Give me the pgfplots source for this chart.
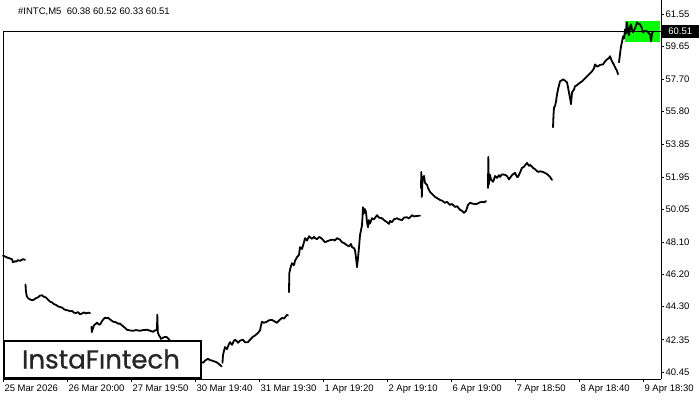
\documentclass[border=0pt]{standalone}
\usepackage{pgfplots}
\pgfplotsset{compat=1.18}
\usepackage{fontspec}
\setmainfont{Liberation Sans}
\newfontfamily\logofont{Poppins}[FakeBold=0.8]
\definecolor{mtgreen}{RGB}{0,255,0}
\pgfplotsset{series/.style={black, line width=1.8pt, line join=round, line cap=round, mark=none}}
\begin{document}
\begin{tikzpicture}[x=1pt,y=1pt]
\useasboundingbox (0,0) rectangle (700,400);
\begin{axis}[
  at={(3pt,21pt)}, anchor=south west,
  scale only axis, width=658pt, height=379pt,
  xmin=3, xmax=661, ymin=40.037, ymax=62.375,
  clip=false,
  axis x line=bottom, axis y line=right,
  axis line style={-, line width=0.8pt, black},
  tick align=outside, major tick length=3pt,
  tick style={black, line width=0.6pt},
  xtick={3,67,131,195,259,323,387,451,515,579,643},
  xticklabels={25 Mar 2026,26 Mar 20:00,27 Mar 19:50,30 Mar 19:40,31 Mar 19:30,1 Apr 19:20,2 Apr 19:10,6 Apr 19:00,7 Apr 18:50,8 Apr 18:40,9 Apr 18:30},
  x tick label style={font=\fontsize{9.5}{10}\selectfont, anchor=north west, xshift=-2pt, yshift=1pt},
  ytick={61.55,59.65,57.70,55.80,53.85,51.95,50.05,48.10,46.20,44.30,42.35,40.45},
  yticklabels={61.55,59.65,57.70,55.80,53.85,51.95,50.05,48.10,46.20,44.30,42.35,40.45},
  y tick label style={font=\fontsize{9.5}{10}\selectfont, anchor=west, xshift=-2pt},
]
% current-price range box
\fill[mtgreen] (axis cs:625,61.137) rectangle (axis cs:660,59.90);
% 25 Mar
\addplot[series] coordinates {(3,47.30)(5,47.26)(7,47.20)(9,47.16)(11,47.12)(12,47.10)(13,46.92)(15,46.98)(16,46.95)(18,47.04)(20,47.00)(22,47.07)(23,47.10)(25,47.06)};
% 26 Mar
\addplot[series] coordinates {(25.5,45.61)(25.8,45.30)(26.3,45.05)(27,44.90)(28,44.80)(30,44.73)(32,44.68)(34,44.72)(36,44.80)(38,44.85)(40,44.95)(42,44.97)(44,44.88)(46,44.84)(48,44.72)(50,44.60)(52,44.55)(54,44.45)(56,44.40)(58,44.32)(60,44.28)(62,44.25)(64,44.15)(66,44.10)(68,44.08)(70,44.03)(72,44.05)(74,43.95)(76,43.92)(78,43.98)(80,43.85)(82,43.90)(84,43.96)(86,43.90)(88,43.95)(90,43.92)};
% 27 Mar - 30 Mar
\addplot[series] coordinates {(91.5,43.12)(91.8,42.80)(92.5,42.95)(94,43.20)(96,43.30)(97,43.36)(99,43.25)(100,43.24)(102,43.45)(104,43.60)(105,43.65)(107,43.62)(108,43.65)(110,43.55)(113,43.42)(116,43.38)(118,43.30)(120,43.30)(122,43.20)(124,43.10)(127,42.94)(130,42.90)(133,42.88)(136,42.92)(140,42.88)(143,42.92)(147,42.94)(150,42.88)(153,42.82)(155,42.90)(157,42.94)(157.3,43.83)(157.8,42.80)(159,42.60)(160,42.53)(161,42.40)(163,42.47)(165,42.52)(167,42.50)(170,42.30)(178,41.90)(186,41.50)(194,41.20)(200,41.05)(203.3,41.00)(205,41.12)(208,41.23)(210,41.15)(211.7,41.13)(214,41.08)(216.7,41.02)(219,40.92)(221.7,40.77)};
% 31 Mar
\addplot[series] coordinates {(222.5,41.00)(223,41.45)(224,41.70)(225,41.92)(227,41.80)(229,42.10)(230,42.21)(232,42.05)(234,42.30)(235,42.35)(237,42.25)(238,42.17)(240,42.30)(243,42.35)(245,42.20)(248,42.21)(250,42.35)(253,42.53)(255,42.60)(257,42.70)(258,42.76)(260,42.90)(261,43.20)(262,43.41)(264,43.35)(267,43.42)(269,43.50)(272,43.52)(274,43.45)(277,43.35)(279,43.48)(282,43.64)(284,43.60)(287,43.82)(288,43.78)};
% 1 Apr - 2 Apr
\addplot[series] coordinates {(289,45.15)(289.3,46.27)(290.5,46.60)(292,46.86)(294,46.75)(295,47.00)(297,47.22)(299,47.35)(300,47.81)(302,47.70)(304,48.10)(305,48.34)(307,48.20)(309,48.45)(310,48.39)(312,48.30)(314,48.42)(315,48.34)(317,48.28)(319,48.40)(320,48.39)(322,48.30)(325,48.10)(327,48.15)(330,48.22)(333,48.25)(335,48.20)(337,48.34)(340,48.25)(342,48.10)(344,48.05)(347,47.92)(349,47.85)(351,48.00)(352,47.81)(354,47.75)(355,47.63)(356,47.20)(357,46.63)(358,47.16)(359,47.80)(360,48.51)(361,48.80)(362,49.10)(362.5,49.60)(363,50.16)(364,49.80)(365,50.05)(366,49.87)(367,49.30)(368,48.98)(369,49.40)(370,49.20)(372,49.51)(374,49.45)(377,49.69)(379,49.55)(382,49.51)(384,49.40)(387,49.28)(389,49.18)(390,49.35)(392,49.28)(394,49.45)(397,49.51)(399,49.45)(402,49.40)(404,49.55)(407,49.57)(409,49.50)(412,49.69)(414,49.62)(417,49.65)(420,49.66)};
% 6 Apr
\addplot[series] coordinates {(421,51.30)(421.3,52.24)(421.8,50.77)(422.5,51.80)(423,51.89)(424,52.00)(425,51.60)(427,51.48)(428,51.30)(430,51.07)(432,50.95)(435,50.77)(437,50.70)(440,50.59)(442,50.55)(445,50.42)(447,50.48)(450,50.30)(452,50.35)(455,50.18)(457,50.22)(460,50.01)(462,49.95)(464,49.83)(466,49.95)(467,50.12)(468,50.30)(470,50.42)(472,50.38)(475,50.35)(477,50.36)(480,50.45)(482,50.48)(484,50.45)(486,50.52)};
% 7 Apr
\addplot[series] coordinates {(488,51.30)(488.3,53.13)(488.8,51.50)(490,52.07)(491,51.80)(493,51.66)(494,51.80)(495,52.00)(497,51.89)(499,52.05)(500,51.95)(502,52.10)(505,52.07)(507,52.00)(509,51.80)(510,51.89)(512,52.05)(515,52.19)(517,51.95)(518,51.95)(520,52.20)(522,52.48)(524,52.55)(526,52.70)(527,52.77)(529,52.60)(530,52.66)(532,52.55)(533,52.48)(535,52.40)(538,52.24)(540,52.28)(543,52.24)(546,52.15)(548,52.07)(550,51.95)(552,51.77)};
% 8 Apr
\addplot[series] coordinates {(553,54.87)(553.5,55.60)(554,56.05)(555,56.11)(556,56.40)(557,56.80)(558,57.11)(559,57.35)(560,57.58)(562,57.65)(563,57.70)(565,57.62)(567,57.52)(568,57.23)(569,56.90)(570,56.60)(571,56.23)(572,56.93)(574,57.10)(575,57.29)(577,57.35)(578,57.41)(580,57.50)(582,57.58)(585,57.75)(587,57.88)(590,58.05)(592,58.17)(594,58.35)(595,58.58)(597,58.45)(598,58.47)(600,58.55)(603,58.58)(605,58.75)(607,58.88)(609,58.95)(610,59.06)(611,58.90)(612,58.76)(614,58.55)(615,58.41)(617,58.20)(618,58.00)};
% 9 Apr
\addplot[series] coordinates {(619,58.70)(620,59.20)(621,59.64)(622,59.90)(623,60.23)(624,60.10)(625,60.64)(626,60.40)(627,61.06)(628,60.53)(629,60.30)(630,60.80)(631,60.94)(632,60.60)(633,60.47)(635,60.70)(637,61.06)(638,60.98)(640,60.94)(642,60.70)(643,60.47)(645,60.55)(647,60.53)(649,60.40)(650,60.35)(651,59.94)(652,60.40)(653,60.51)};
% price line and left edge
\draw[black, line width=0.6pt] (axis cs:3,60.51) -- (axis cs:661,60.51);
\draw[black, line width=0.8pt] (axis cs:3,60.51) -- (axis cs:3,40.037);
\node[fill=black, text=white, anchor=west, inner sep=1.5pt, minimum width=37pt, minimum height=13pt, font=\fontsize{9.5}{10}\selectfont] at (axis cs:661.5,60.51) {60.51};
\end{axis}
% logo (drawn over the series)
\draw[black, line width=2pt, fill=white] (3.5,59) rectangle (201,22);
\node[text=black!85, font=\logofont\fontsize{26}{28}\selectfont, inner sep=0pt] at (101,41) {InstaFıntech};
\node[anchor=west, font=\fontsize{9.5}{10}\selectfont, inner sep=0pt] at (18,388.5) {\#INTC,M5\ \ 60.38 60.52 60.33 60.51};
\end{tikzpicture}
\end{document}
